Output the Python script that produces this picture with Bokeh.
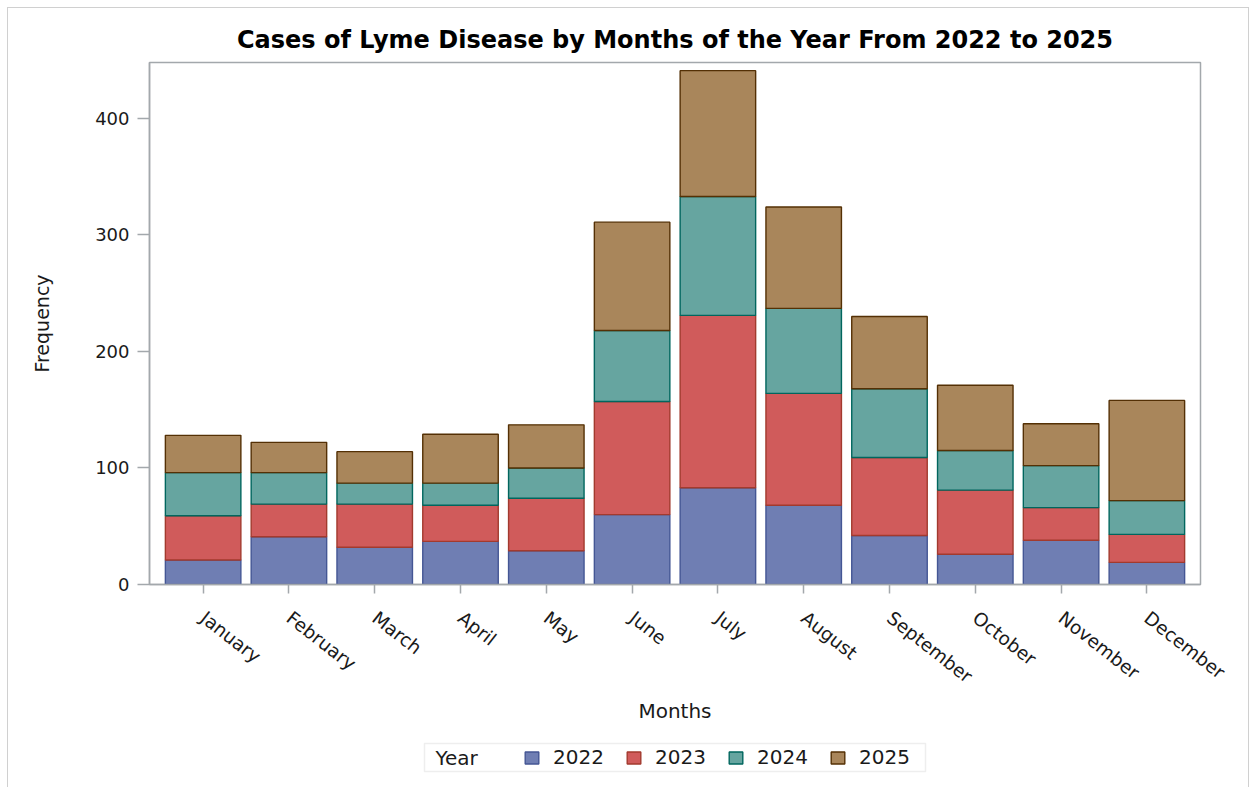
import math
from bokeh.plotting import figure
from bokeh.layouts import column
from bokeh.models import (ColumnDataSource, FactorRange, Range1d, Legend,
                          LegendItem, FixedTicker, Label, BoxAnnotation)
from bokeh.embed import file_html
from bokeh.resources import INLINE

# ---------------- data ----------------
months = ["January", "February", "March", "April", "May", "June",
          "July", "August", "September", "October", "November", "December"]
years = ["2022", "2023", "2024", "2025"]
cases_2022 = [21, 41, 32, 37, 29, 60, 83, 68, 42, 26, 38, 19]
cases_2023 = [38, 28, 37, 31, 45, 97, 148, 96, 67, 55, 28, 24]
cases_2024 = [37, 27, 18, 19, 26, 61, 102, 73, 59, 34, 36, 29]
cases_2025 = [32, 26, 27, 42, 37, 93, 108, 87, 62, 56, 36, 86]
y_ticks = [0, 100, 200, 300, 400]

title_text = "Cases of Lyme Disease by Months of the Year From 2022 to 2025"
x_label = "Months"
y_label = "Frequency"
legend_title = "Year"

# ---------------- styles ----------------
fill_colors = ["#6F7EB3", "#D05B5B", "#66A5A0", "#A9865B"]
line_colors = ["#445694", "#A23A2E", "#01665E", "#543005"]
FONT = "DejaVu Sans"
AXIS_GRAY = "#A3A8AC"
TEXT = "#1a1a1a"

source = ColumnDataSource(data={
    "month": months,
    "2022": cases_2022,
    "2023": cases_2023,
    "2024": cases_2024,
    "2025": cases_2025,
})

# ---------------- main chart ----------------
p = figure(
    x_range=FactorRange(*months, range_padding=0.125, range_padding_units="absolute"),
    y_range=Range1d(0, 448),
    width=1240, height=727,
    output_backend="svg", toolbar_location=None,
    min_border_left=141, min_border_right=48,
    min_border_top=54, min_border_bottom=151,
    background_fill_color="white", border_fill_color="white",
)

renderers = p.vbar_stack(years, x="month", width=0.88, source=source,
                         fill_color=fill_colors, line_color=line_colors,
                         line_width=1.4)

p.title.text = title_text
p.title.align = "center"
p.title.text_font = FONT
p.title.text_font_size = "24px"
p.title.text_font_style = "bold"
p.title.text_color = "black"
p.title.standoff = 17

p.xgrid.visible = False
p.ygrid.visible = False
p.outline_line_color = AXIS_GRAY
p.outline_line_width = 1.5

xa = p.xaxis[0]
xa.axis_line_color = AXIS_GRAY
xa.axis_line_width = 1.5
xa.major_tick_line_color = AXIS_GRAY
xa.major_tick_line_width = 1.5
xa.major_tick_in = 0
xa.major_tick_out = 9
xa.major_label_orientation = -math.radians(38)
xa.major_label_text_font = FONT
xa.major_label_text_font_size = "18.5px"
xa.major_label_text_color = TEXT
xa.major_label_standoff = 22
xa.axis_label = x_label
xa.axis_label_text_font = FONT
xa.axis_label_text_font_size = "20px"
xa.axis_label_text_font_style = "normal"
xa.axis_label_text_color = TEXT
xa.axis_label_standoff = 1

ya = p.yaxis[0]
ya.ticker = FixedTicker(ticks=y_ticks)
ya.axis_line_color = AXIS_GRAY
ya.axis_line_width = 1.5
ya.major_tick_line_color = AXIS_GRAY
ya.major_tick_line_width = 1.5
ya.major_tick_in = 0
ya.major_tick_out = 12
ya.minor_tick_line_color = None
ya.major_label_text_font = FONT
ya.major_label_text_font_size = "18px"
ya.major_label_text_color = TEXT
ya.major_label_standoff = 8
ya.axis_label = y_label
ya.axis_label_text_font = FONT
ya.axis_label_text_font_size = "19px"
ya.axis_label_text_font_style = "normal"
ya.axis_label_text_color = TEXT
ya.axis_label_standoff = 39

# ---------------- legend strip (frame aligned with the chart frame) ----------------
lg = figure(
    width=1240, height=52,
    x_range=FactorRange(*months, range_padding=0.125, range_padding_units="absolute"),
    y_range=Range1d(-2, -1),
    x_axis_type=None, y_axis_type=None,
    output_backend="svg", toolbar_location=None,
    min_border=0, min_border_left=0, min_border_right=0,
    min_border_top=0, min_border_bottom=0,
    outline_line_color=None,
    background_fill_color="white", border_fill_color="white",
)
lg.xgrid.visible = False
lg.ygrid.visible = False

lg.add_layout(BoxAnnotation(
    left=275, right=776, bottom=16, top=44,
    left_units="screen", right_units="screen",
    bottom_units="screen", top_units="screen",
    fill_color="white", fill_alpha=1.0,
    line_color="#C8C8C8", line_width=1.5,
))

# hidden copies of the stacked bars, used only for the legend swatches
swatches = lg.vbar_stack(years, x="month", width=0.88, source=source,
                         fill_color=fill_colors, line_color=line_colors,
                         line_width=1.4)
for r in swatches:
    r.visible = False

legend = Legend(
    items=[LegendItem(label=yr, renderers=[r]) for yr, r in zip(years, swatches)],
    orientation="horizontal", location=(374, 18),
    glyph_width=17, glyph_height=15, label_standoff=13, spacing=12,
    label_width=60, label_height=22, padding=0, margin=0,
    border_line_color=None, background_fill_alpha=0.0,
    label_text_font=FONT, label_text_font_size="20px", label_text_color=TEXT,
)
lg.add_layout(legend, "center")

lg.add_layout(Label(
    x=286, y=30, x_units="screen", y_units="screen", text=legend_title,
    text_font=FONT, text_font_size="20px", text_color=TEXT,
    text_baseline="middle", text_align="left",
))

layout = column(p, lg, spacing=0)
layout.margin = (8, 0, 0, 8)
layout.styles = {"outline": "1px solid #D0D0D0"}

open("out.html", "w").write(file_html(layout, INLINE))
